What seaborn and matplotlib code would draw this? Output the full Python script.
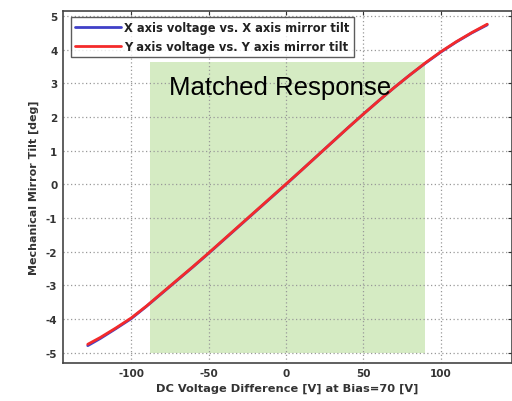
import numpy as np
import pandas as pd
import matplotlib
matplotlib.use("Agg")
import matplotlib.pyplot as plt
import seaborn as sns
from matplotlib.patches import Rectangle

voltage = [-128, -120, -110, -100, -90, -80, -70, -60, -50, -40, -30, -20, -10, 0,
           10, 20, 30, 40, 50, 60, 70, 80, 90, 100, 110, 120, 130]
tilt_x = [-4.79, -4.58, -4.29, -3.99, -3.62, -3.23, -2.84, -2.45, -2.05, -1.64, -1.23, -0.82, -0.41, 0.0,
          0.42, 0.84, 1.26, 1.68, 2.09, 2.49, 2.88, 3.25, 3.60, 3.93, 4.23, 4.50, 4.74]
tilt_y = [-4.75, -4.55, -4.27, -3.97, -3.61, -3.22, -2.83, -2.44, -2.04, -1.63, -1.22, -0.81, -0.40, 0.01,
          0.42, 0.84, 1.26, 1.68, 2.09, 2.49, 2.88, 3.25, 3.61, 3.94, 4.24, 4.51, 4.76]
series_labels = ["X axis voltage vs. X axis mirror tilt", "Y axis voltage vs. Y axis mirror tilt"]
x_ticks = [-100, -50, 0, 50, 100]
y_ticks = [-5, -4, -3, -2, -1, 0, 1, 2, 3, 4, 5]
region_x = [-88, 90]
region_y = [-5.02, 3.65]

sns.set_style("white")
plt.rcParams['font.family'] = ['DejaVu Sans']
plt.rcParams['axes.unicode_minus'] = False

df = pd.DataFrame({
    "v": voltage * 2,
    "tilt": tilt_x + tilt_y,
    "series": [series_labels[0]] * len(voltage) + [series_labels[1]] * len(voltage),
})

fig = plt.figure(figsize=(5.12, 4.02), dpi=100)
ax = fig.add_axes([0.123, 0.095, 0.877, 0.875])

ax.add_patch(Rectangle((region_x[0], region_y[0]), region_x[1] - region_x[0], region_y[1] - region_y[0],
                       facecolor="#d5ebc3", edgecolor="none", zorder=0))

sns.lineplot(data=df, x="v", y="tilt", hue="series",
             palette={series_labels[0]: "#4040c8", series_labels[1]: "#f42a2a"},
             linewidth=2.0, ax=ax, zorder=3)

ax.set_xlim(-144, 146)
ax.set_ylim(-5.3, 5.15)
ax.set_xticks(x_ticks)
ax.set_yticks(y_ticks)
ax.grid(True, linestyle=(0, (1, 2)), color="#999999", linewidth=0.9, zorder=1)
ax.set_axisbelow(True)
for s in ax.spines.values():
    s.set_color("#444444")
    s.set_linewidth(1.2)
ax.tick_params(axis="both", direction="in", length=3, labelsize=7.5, colors="#333333", pad=4,
               top=True, right=True)
for lbl in ax.get_xticklabels() + ax.get_yticklabels():
    lbl.set_fontweight("bold")

ax.set_xlabel("DC Voltage Difference [V] at Bias=70 [V]", fontsize=8.2, fontweight="bold", color="#333333", labelpad=3)
ax.set_ylabel("Mechanical Mirror Tilt [deg]", fontsize=8.0, fontweight="bold", color="#333333", labelpad=5)

ax.text(-4, 2.9, "Matched Response", fontsize=18.5, ha="center", va="center", color="black",
        family=["Liberation Sans"], zorder=4)

leg = ax.legend(loc="upper left", fontsize=8.3, frameon=True, fancybox=False, handlelength=4.0,
                borderpad=0.4, labelspacing=0.45, handletextpad=0.2, borderaxespad=0.2,
                bbox_to_anchor=(0.012, 0.99))
leg.get_frame().set_edgecolor("#333333")
leg.get_frame().set_linewidth(1.0)
for t in leg.get_texts():
    t.set_fontweight("bold")
    t.set_color("#222222")

fig.savefig("out.png", dpi=100)
